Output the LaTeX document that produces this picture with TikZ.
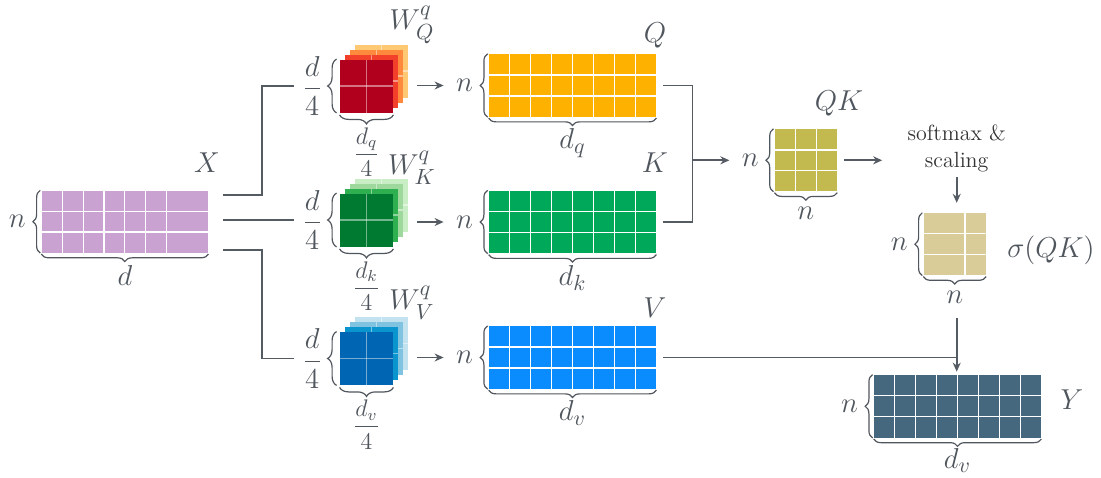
\documentclass[tikz,border=0pt]{standalone}
\usepackage{amsmath}
\usetikzlibrary{positioning, calc, arrows.meta, decorations.pathreplacing}
\definecolor{txt}{HTML}{50565D}
\definecolor{linec}{HTML}{555B62}
\definecolor{xcol}{HTML}{C9A2D1}
\definecolor{qcol}{HTML}{FFB100}
\definecolor{kcol}{HTML}{00A85A}
\definecolor{vcol}{HTML}{0A8CFF}
\definecolor{qkcol}{HTML}{C2B94F}
\definecolor{scol}{HTML}{D9CC98}
\definecolor{ycol}{HTML}{46687F}
\definecolor{q1}{HTML}{B0001E}
\definecolor{q2}{HTML}{F2402A}
\definecolor{q3}{HTML}{FF8A3D}
\definecolor{q4}{HTML}{FFC873}
\definecolor{k1}{HTML}{007A30}
\definecolor{k2}{HTML}{2EB050}
\definecolor{k3}{HTML}{9ED89C}
\definecolor{k4}{HTML}{C9EEC6}
\definecolor{v1}{HTML}{0066B3}
\definecolor{v2}{HTML}{0A95CF}
\definecolor{v3}{HTML}{7FC3E0}
\definecolor{v4}{HTML}{C2E2F0}
\tikzset{
  cells/.style 2 args={path picture={
    \foreach \f in {#1}
      \draw[white, line width=0.6pt] ($(path picture bounding box.south west)!\f!(path picture bounding box.south east)$) -- ($(path picture bounding box.north west)!\f!(path picture bounding box.north east)$);
    \foreach \f in {#2}
      \draw[white, line width=0.6pt] ($(path picture bounding box.south west)!\f!(path picture bounding box.north west)$) -- ($(path picture bounding box.south east)!\f!(path picture bounding box.north east)$);
  }},
  wcells/.style={path picture={
    \draw[white, draw opacity=0.45, line width=0.6pt] (path picture bounding box.south) -- (path picture bounding box.north);
    \draw[white, draw opacity=0.45, line width=0.6pt] (path picture bounding box.west) -- (path picture bounding box.east);
  }}
}

\begin{document}
\begin{tikzpicture}[x=0.5pt, y=-0.5pt,
  mat/.style={inner sep=0pt, minimum width=83.5pt, minimum height=31.25pt,
    cells={0.125,0.25,0.375,0.5,0.625,0.75,0.875}{0.3333,0.6667}},
  sq/.style={inner sep=0pt, minimum size=31pt},
  wsq/.style={inner sep=0pt, minimum size=26.5pt, wcells},
  line/.style={draw=linec, line width=0.85pt},
  arrow/.style={-{Stealth[length=4.5pt, width=4pt]}, line width=0.85pt, draw=linec, fill=linec},
  brace/.style={decorate, decoration={brace, amplitude=3.7pt}, draw=txt, line width=0.6pt},
  wbrace/.style={decorate, decoration={brace, amplitude=4.5pt}, draw=txt, line width=0.6pt},
  lab/.style={text=txt, inner sep=0pt, font=\fontsize{15}{18}\selectfont},
  frac/.style={text=txt, inner sep=0pt, font=\fontsize{14}{16}\selectfont},
  sfrac/.style={text=txt, inner sep=0pt, font=\fontsize{11.5}{14}\selectfont}
]
\useasboundingbox (0,0) rectangle (1101,477);

% input
\node[inner sep=0pt, minimum width=83.15pt, minimum height=31pt, fill=xcol,
  cells={0.125,0.25,0.375,0.5,0.625,0.75}{0.3333,0.6667}] (X) at (124.85,221.7) {};
\draw[brace] ([xshift=-0.5pt]X.south west) -- ([xshift=-0.5pt]X.north west)
  node[midway, left=7pt, lab] (nx) {$n$};
\draw[brace] ([yshift=-0.5pt]X.south east) -- ([yshift=-0.5pt]X.south west)
  node[midway, below=5.5pt, lab] (dx) {$d$};
\node[lab] (xl) at (207,163) {$X$};

% weight stacks
\foreach \i/\c in {3/q4,2/q3,1/q2}
  \node[wsq, fill=\c] (wq\i) at (366.5+5*\i,86-5*\i) {};
\node[wsq, fill=q1] (wq) at (366.5,86) {};
\foreach \i/\c in {3/k4,2/k3,1/k2}
  \node[wsq, fill=\c] (wk\i) at (366.5+5*\i,220-5*\i) {};
\node[wsq, fill=k1] (wk) at (366.5,220) {};
\foreach \i/\c in {3/v4,2/v3,1/v2}
  \node[wsq, fill=\c] (wv\i) at (366.5+5*\i,358.5-5*\i) {};
\node[wsq, fill=v1] (wv) at (366.5,358.5) {};

\draw[wbrace] ([xshift=-1.5pt]wq.south west) -- ([xshift=-1.5pt]wq.north west)
  node[midway, left=7pt, frac] (fq) {$\dfrac{d}{4}$};
\draw[wbrace] ([yshift=-1pt]wq.south east) -- ([yshift=-1pt]wq.south west)
  node[midway, below=6pt, sfrac] (fqb) {$\dfrac{d_q}{4}$};
\draw[wbrace] ([xshift=-1.5pt]wk.south west) -- ([xshift=-1.5pt]wk.north west)
  node[midway, left=7pt, frac] (fk) {$\dfrac{d}{4}$};
\draw[wbrace] ([yshift=-1pt]wk.south east) -- ([yshift=-1pt]wk.south west)
  node[midway, below=6pt, sfrac] (fkb) {$\dfrac{d_k}{4}$};
\draw[wbrace] ([xshift=-1.5pt]wv.south west) -- ([xshift=-1.5pt]wv.north west)
  node[midway, left=7pt, frac] (fv) {$\dfrac{d}{4}$};
\draw[wbrace] ([yshift=-1pt]wv.south east) -- ([yshift=-1pt]wv.south west)
  node[midway, below=6pt, sfrac] (fvb) {$\dfrac{d_v}{4}$};
\node[lab] (wql) at (412,25) {$W^q_Q$};
\node[lab] (wkl) at (412,168) {$W^q_K$};
\node[lab] (wvl) at (412,303) {$W^q_V$};

% projections
\node[mat, fill=qcol] (Q) at (572.5,85.5) {};
\node[mat, fill=kcol] (K) at (572.5,222) {};
\node[mat, fill=vcol] (V) at (572.5,357.5) {};
\draw[brace] ([xshift=-0.5pt]Q.south west) -- ([xshift=-0.5pt]Q.north west)
  node[midway, left=7pt, lab] (nq) {$n$};
\draw[brace] ([yshift=-0.5pt]Q.south east) -- ([yshift=-0.5pt]Q.south west)
  node[midway, below=5pt, lab] (dq) {$d_q$};
\draw[brace] ([xshift=-0.5pt]K.south west) -- ([xshift=-0.5pt]K.north west)
  node[midway, left=7pt, lab] (nk) {$n$};
\draw[brace] ([yshift=-0.5pt]K.south east) -- ([yshift=-0.5pt]K.south west)
  node[midway, below=5pt, lab] (dk) {$d_k$};
\draw[brace] ([xshift=-0.5pt]V.south west) -- ([xshift=-0.5pt]V.north west)
  node[midway, left=7pt, lab] (nv) {$n$};
\draw[brace] ([yshift=-0.5pt]V.south east) -- ([yshift=-0.5pt]V.south west)
  node[midway, below=5pt, lab] (dv) {$d_v$};
\node[lab] (ql) at (655,35) {$Q$};
\node[lab] (kl) at (655,163) {$K$};
\node[lab] (vl) at (655,308) {$V$};

% attention
\node[sq, fill=qkcol, cells={0.3333,0.6667}{0.3333,0.6667}] (QK) at (805.8,160.3) {};
\draw[brace] ([xshift=-0.5pt]QK.south west) -- ([xshift=-0.5pt]QK.north west)
  node[midway, left=7pt, lab] (nqk) {$n$};
\draw[brace] ([yshift=-0.5pt]QK.south east) -- ([yshift=-0.5pt]QK.south west)
  node[midway, below=7pt, lab] (nqkb) {$n$};
\node[lab] (qkl) at (839,103) {$QK$};

\node[inner sep=0pt, align=center, text=black!80, font=\fontsize{11}{13.5}\selectfont] (sm) at (956.7,148) {softmax \&\\scaling};

\node[sq, fill=scol, cells={0.6667}{0.3333,0.6667}] (S) at (954.7,244.2) {};
\draw[brace] ([xshift=-0.5pt]S.south west) -- ([xshift=-0.5pt]S.north west)
  node[midway, left=7pt, lab] (ns) {$n$};
\draw[brace] ([yshift=-0.5pt]S.south east) -- ([yshift=-0.5pt]S.south west)
  node[midway, below=7pt, lab] (nsb) {$n$};
\node[lab] (sl) at (1051,250) {$\sigma(QK)$};

\node[mat, fill=ycol] (Y) at (957.5,406.3) {};
\draw[brace] ([xshift=-0.5pt]Y.south west) -- ([xshift=-0.5pt]Y.north west)
  node[midway, left=7pt, lab] (ny) {$n$};
\draw[brace] ([yshift=-0.5pt]Y.south east) -- ([yshift=-0.5pt]Y.south west)
  node[midway, below=4.5pt, lab] (dy) {$d_v$};
\node[lab] (yl) at (1072,400) {$Y$};

% connectors
\coordinate (split) at (261.7,222);
\draw[line] ([xshift=7.5pt,yshift=-2.5pt]X.north east) -| (split |- fq) -- ([xshift=-4pt]fq.west);
\draw[line] ([xshift=7.5pt]X.east |- fk) -- ([xshift=-4pt]fk.west);
\draw[line] ([xshift=7.5pt,yshift=1.7pt]X.south east) -| (split |- fv) -- ([xshift=-4pt]fv.west);
\draw[arrow] ([xshift=4.3pt]wq3.east |- nq) -- ([xshift=-6pt]nq.west);
\draw[arrow] ([xshift=4.3pt]wk3.east |- nk) -- ([xshift=-6pt]nk.west);
\draw[arrow] ([xshift=4.3pt]wv3.east |- nv) -- ([xshift=-6pt]nv.west);

\coordinate (qkin) at ([xshift=18pt]Q.east |- QK.west);
\draw[line] ([xshift=3.5pt]Q.east) -| (qkin) |- ([xshift=3.5pt]K.east);
\draw[arrow] (qkin) -- ([xshift=-6pt]nqk.west);
\draw[arrow] ([xshift=3.5pt]QK.east) -- ([xshift=-12.5pt]sm.west |- QK.east);
\draw[arrow] ([yshift=-2.5pt]sm.south) -- ([yshift=5pt]sm.south |- S.north);

\coordinate (vy) at (sm.south |- V.east);
\draw[line] ([xshift=3.5pt]V.east) -- (vy);
\draw[arrow] ([yshift=-7pt]nsb.south -| vy) -- ([yshift=1.5pt]Y.north -| vy);
\end{tikzpicture}
\end{document}
